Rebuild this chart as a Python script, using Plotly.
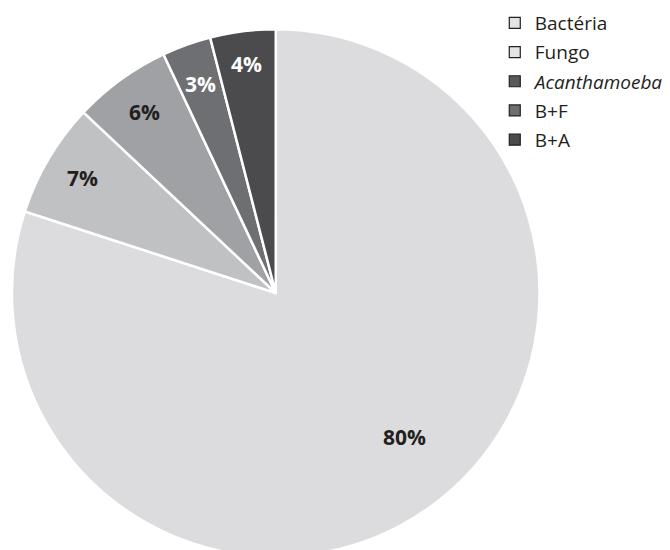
import math
import plotly.graph_objects as go

labels = ["Bactéria", "Fungo", "<i>Acanthamoeba</i>", "B+F", "B+A"]
values = [80, 7, 6, 3, 4]
text_labels = ["80%", "7%", "6%", "3%", "4%"]

# styles
colors = ["#dcdcde", "#c0c1c3", "#a0a1a4", "#6e6f72", "#4b4b4d"]
legend_colors = ["#e2e3e4", "#e2e3e4", "#58595b", "#6d6e71", "#4b4b4d"]
text_colors = ["#231f20", "#231f20", "#231f20", "#ffffff", "#ffffff"]
label_radius = [0.73, 0.85, 0.845, 0.84, 0.87]
label_angle_shift = [-6, 0, 0, 0, 0]

W, H = 670, 560
cx, cy, R = 277, 293, 265  # pixel centre / radius of the pie

fig = go.Figure()
fig.add_trace(go.Pie(
    labels=labels,
    values=values,
    textinfo="none",
    hoverinfo="label+value",
    sort=False,
    direction="clockwise",
    rotation=0,
    showlegend=False,
    marker=dict(colors=colors, line=dict(color="#ffffff", width=2.5)),
    domain=dict(x=[(cx - R) / W, (cx + R) / W], y=[1 - (cy + R) / H, 1 - (cy - R) / H]),
))

# percentage labels placed at slice mid-angles
total = sum(values)
cum = 0
for v, t, c, rf, sh in zip(values, text_labels, text_colors, label_radius, label_angle_shift):
    mid = (cum + v / 2) / total * 360 + sh
    cum += v
    a = math.radians(mid)
    px = cx + R * rf * math.sin(a)
    py = cy - R * rf * math.cos(a)
    fig.add_annotation(
        x=px / W, y=1 - py / H, xref="paper", yref="paper",
        text=f"<b>{t}</b>", showarrow=False,
        xanchor="center", yanchor="middle",
        font=dict(family="Open Sans", size=21, color=c),
    )

# legend entries (square markers with dark outline)
for i, (lab, col) in enumerate(zip(labels, legend_colors)):
    fig.add_trace(go.Scatter(
        x=[None], y=[None], mode="markers", name=lab,
        legendgroup=f"g{i}",
        marker=dict(symbol="square", size=11, color=col,
                    line=dict(color="#231f20", width=1.2)),
        hoverinfo="skip",
    ))

fig.update_layout(
    width=W, height=H,
    margin=dict(l=0, r=0, t=0, b=0),
    paper_bgcolor="white",
    plot_bgcolor="white",
    xaxis=dict(visible=False),
    yaxis=dict(visible=False),
    showlegend=True,
    legend=dict(
        x=497 / W, y=1 - 4 / H, xanchor="left", yanchor="top",
        font=dict(family="Open Sans", size=19, color="#231f20"),
        itemwidth=30,
        tracegroupgap=1.5,
        bgcolor="rgba(0,0,0,0)",
    ),
)

fig.write_html("out.html")
